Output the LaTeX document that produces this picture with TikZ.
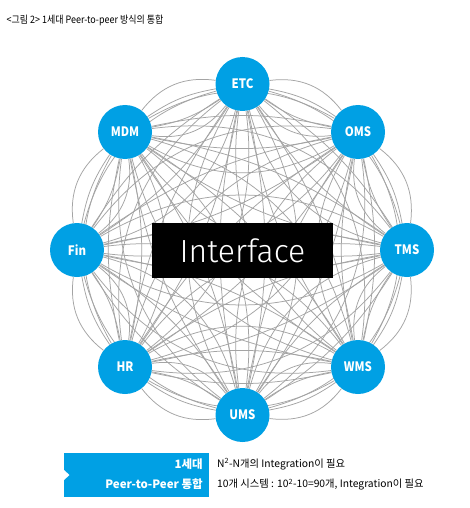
\documentclass[tikz,border=0pt]{standalone}
\usepackage{fontspec}
\setmainfont{Noto Sans CJK KR}[FakeStretch=0.88]
\newfontfamily\widefont{Noto Sans CJK KR}
\newfontfamily\thinfont{Fira Sans Light}
\definecolor{nodeblue}{HTML}{00A0E4}
\definecolor{linegray}{HTML}{A4A4A4}
\pgfdeclarelayer{bg}
\pgfsetlayers{bg,main}
\begin{document}
\begin{tikzpicture}[x=1pt,y=-1pt,
  sys/.style={circle,fill=nodeblue,minimum size=54pt,inner sep=0pt,text=white,
    font=\bfseries\fontsize{13}{13}\selectfont},
  link/.style={draw=linegray,line width=0.75pt},
  legbold/.style={anchor=east,inner sep=0pt,text=white,font=\widefont\bfseries\fontsize{11.5}{11.5}\selectfont},
  legtext/.style={anchor=west,inner sep=0pt,font=\widefont\fontsize{10.3}{10.3}\selectfont}]
\useasboundingbox (0,0) rectangle (470,508);
\begin{pgfonlayer}{bg}
\fill[white] (0,0) rectangle (470,508);
\end{pgfonlayer}
\node[anchor=west,inner sep=0pt,font=\fontsize{10.2}{10.2}\selectfont] (title) at (6.5,20) {<그림 2> 1세대 Peer-to-peer 방식의 통합};
\node[sys] (etc) at (242.5,84) {ETC};
\node[sys] (oms) at (358,132) {OMS};
\node[sys] (tms) at (407,250) {TMS};
\node[sys] (wms) at (358,367) {WMS};
\node[sys] (ums) at (242.5,415) {UMS};
\node[sys] (hr) at (125,367) {HR};
\node[sys] (fin) at (77,250) {Fin};
\node[sys] (mdm) at (125,132) {MDM};
\node[fill=black,minimum width=181pt,minimum height=55pt,inner sep=0pt,text=white,
  font=\thinfont\fontsize{32}{32}\selectfont] (iface) at (242.5,250.5) {Interface};
\begin{pgfonlayer}{bg}
\foreach \a [count=\i] in {etc,oms,tms,wms,ums,hr,fin,mdm}{
  \foreach \b [count=\j] in {etc,oms,tms,wms,ums,hr,fin,mdm}{
    \ifnum\j>\i
      \draw[link] (\a) to[bend left=12] (\b);
      \draw[link] (\a) to[bend right=12] (\b);
      \draw[link] (\a) to[bend left=30] (\b);
      \draw[link] (\a) to[bend right=30] (\b);
    \fi
  }
}
\end{pgfonlayer}
\fill[nodeblue] (64,453) rectangle (209,497);
\fill[white] (64,470) -- (69.5,475) -- (64,480) -- cycle;
\node[legbold] (gen) at (203,464) {1세대};
\node[legbold] (p2p) at (203,484.5) {Peer-to-Peer 통합};
\node[legtext] (l1) at (217,464) {N\textsuperscript{2}-N개의 Integration이 필요};
\node[legtext] (l2) at (217,484.5) {10개 시스템 : 10\textsuperscript{2}-10=90개, Integration이 필요};
\end{tikzpicture}
\end{document}
